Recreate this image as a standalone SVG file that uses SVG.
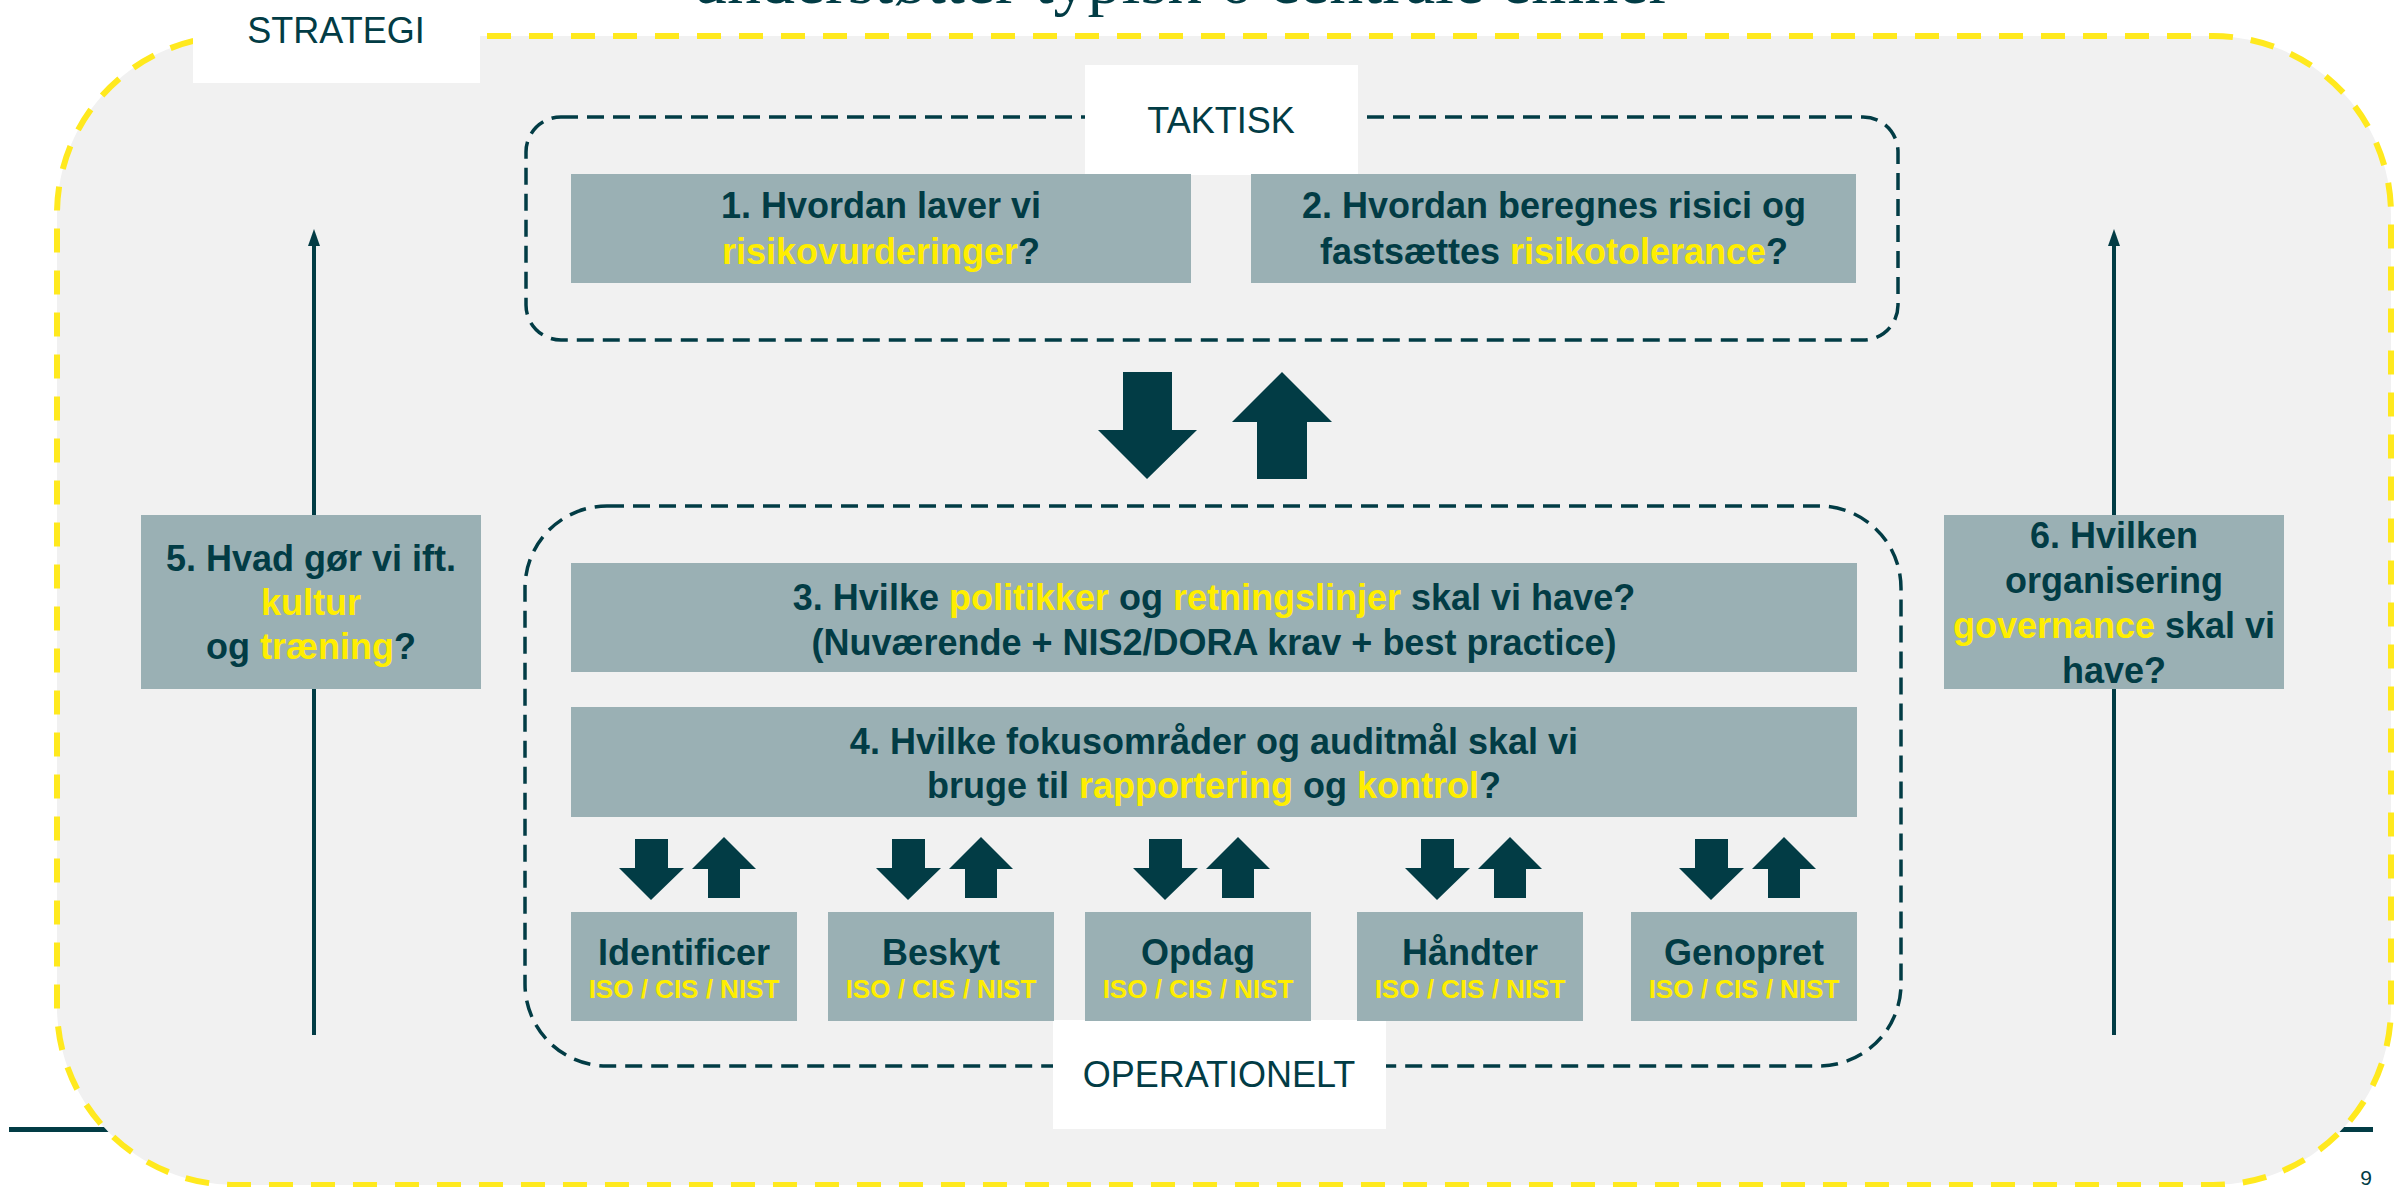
<svg xmlns="http://www.w3.org/2000/svg" width="2394" height="1187" viewBox="0 0 2394 1187">
<defs>
<style>
.t{font-family:"Liberation Sans",Arial,sans-serif;font-weight:bold;font-size:36px;fill:#023C45;text-anchor:middle}
.s{font-size:26px}
.y{fill:#FFEE00}
.box{fill:#9AB0B4}
.lbl{font-family:"Liberation Sans",Arial,sans-serif;font-size:36px;fill:#023C45;text-anchor:middle}
.wb{fill:#FFFFFF}
.arr{fill:#023C45}
.dash{fill:none;stroke:#023C45;stroke-width:3.5;stroke-dasharray:17 9}
.vline{stroke:#023C45;stroke-width:4}
</style>
</defs>
<rect x="0" y="0" width="2394" height="1187" fill="#FFFFFF"/>
<rect x="9" y="1127" width="2364" height="5" fill="#023C45"/>
<text x="1182" y="3" font-family="Liberation Serif,Times New Roman,serif" font-size="68" fill="#023C45" text-anchor="middle">understøtter typisk 6 centrale emner</text>
<rect id="outer" x="57" y="36" width="2334" height="1149" rx="178" ry="178" fill="#F1F1F1" stroke="#FFE91E" stroke-width="6" stroke-dasharray="24 18"/>
<text x="2366" y="1185" font-family="Liberation Sans,Arial,sans-serif" font-size="21" fill="#023C45" text-anchor="middle">9</text>

<g id="connectors">
<line class="vline" x1="314" y1="244" x2="314" y2="1035"/>
<polygon class="arr" points="314,229 308,246 320,246"/>
<line class="vline" x1="2114" y1="244" x2="2114" y2="1035"/>
<polygon class="arr" points="2114,229 2108,246 2120,246"/>
<polygon class="arr" points="1123,372 1172,372 1172,430 1197,430 1147,479 1098,430 1123,430"/>
<polygon class="arr" points="1282,372 1332,422 1307,422 1307,479 1257,479 1257,422 1232,422"/>
<g id="small-arrows">
<polygon class="arr" transform="translate(684,0)" points="-49,839 -16,839 -16,868 0,868 -33,900 -65,868 -49,868"/>
<polygon class="arr" transform="translate(684,0)" points="40,837 72,869 56,869 56,898 24,898 24,869 8,869"/>
<polygon class="arr" transform="translate(941,0)" points="-49,839 -16,839 -16,868 0,868 -33,900 -65,868 -49,868"/>
<polygon class="arr" transform="translate(941,0)" points="40,837 72,869 56,869 56,898 24,898 24,869 8,869"/>
<polygon class="arr" transform="translate(1198,0)" points="-49,839 -16,839 -16,868 0,868 -33,900 -65,868 -49,868"/>
<polygon class="arr" transform="translate(1198,0)" points="40,837 72,869 56,869 56,898 24,898 24,869 8,869"/>
<polygon class="arr" transform="translate(1470,0)" points="-49,839 -16,839 -16,868 0,868 -33,900 -65,868 -49,868"/>
<polygon class="arr" transform="translate(1470,0)" points="40,837 72,869 56,869 56,898 24,898 24,869 8,869"/>
<polygon class="arr" transform="translate(1744,0)" points="-49,839 -16,839 -16,868 0,868 -33,900 -65,868 -49,868"/>
<polygon class="arr" transform="translate(1744,0)" points="40,837 72,869 56,869 56,898 24,898 24,869 8,869"/>
</g>
</g>

<g id="group-taktisk">
<rect class="dash" x="526" y="117" width="1372" height="223" rx="35" ry="35"/>
</g>
<g id="group-operationelt">
<rect class="dash" x="525" y="506" width="1376" height="560" rx="82" ry="82"/>
</g>

<g id="label-strategi">
<rect class="wb" x="193" y="0" width="287" height="83"/>
<text class="lbl" x="336" y="43">STRATEGI</text>
</g>
<g id="label-taktisk">
<rect class="wb" x="1085" y="65" width="273" height="110"/>
<text class="lbl" x="1221" y="133">TAKTISK</text>
</g>
<g id="label-operationelt">
<rect class="wb" x="1053" y="1020" width="333" height="109"/>
<text class="lbl" x="1219" y="1087">OPERATIONELT</text>
</g>

<g id="node-1">
<rect class="box" x="571" y="174" width="620" height="109"/>
<text class="t" x="881" y="218">1. Hvordan laver vi</text>
<text class="t" x="881" y="264"><tspan class="y">risikovurderinger</tspan>?</text>
</g>
<g id="node-2">
<rect class="box" x="1251" y="174" width="605" height="109"/>
<text class="t" x="1554" y="218">2. Hvordan beregnes risici og</text>
<text class="t" x="1554" y="264">fastsættes <tspan class="y">risikotolerance</tspan>?</text>
</g>
<g id="node-3">
<rect class="box" x="571" y="563" width="1286" height="109"/>
<text class="t" x="1214" y="610">3. Hvilke <tspan class="y">politikker</tspan> og <tspan class="y">retningslinjer</tspan> skal vi have?</text>
<text class="t" x="1214" y="655">(Nuværende + NIS2/DORA krav + best practice)</text>
</g>
<g id="node-4">
<rect class="box" x="571" y="707" width="1286" height="110"/>
<text class="t" x="1214" y="754">4. Hvilke fokusområder og auditmål skal vi</text>
<text class="t" x="1214" y="798">bruge til <tspan class="y">rapportering</tspan> og <tspan class="y">kontrol</tspan>?</text>
</g>
<g id="node-5">
<rect class="box" x="141" y="515" width="340" height="174"/>
<text class="t" x="311" y="571">5. Hvad gør vi ift.</text>
<text class="t" x="311" y="615"><tspan class="y">kultur</tspan></text>
<text class="t" x="311" y="659">og <tspan class="y">træning</tspan>?</text>
</g>
<g id="node-6">
<rect class="box" x="1944" y="515" width="340" height="174"/>
<text class="t" x="2114" y="548">6. Hvilken</text>
<text class="t" x="2114" y="593">organisering</text>
<text class="t" x="2114" y="638"><tspan class="y">governance</tspan> skal vi</text>
<text class="t" x="2114" y="683">have?</text>
</g>

<g id="node-identificer">
<rect class="box" x="571" y="912" width="226" height="109"/>
<text class="t" x="684" y="965">Identificer</text>
<text class="t s y" x="684" y="998">ISO / CIS / NIST</text>
</g>
<g id="node-beskyt">
<rect class="box" x="828" y="912" width="226" height="109"/>
<text class="t" x="941" y="965">Beskyt</text>
<text class="t s y" x="941" y="998">ISO / CIS / NIST</text>
</g>
<g id="node-opdag">
<rect class="box" x="1085" y="912" width="226" height="109"/>
<text class="t" x="1198" y="965">Opdag</text>
<text class="t s y" x="1198" y="998">ISO / CIS / NIST</text>
</g>
<g id="node-handter">
<rect class="box" x="1357" y="912" width="226" height="109"/>
<text class="t" x="1470" y="965">Håndter</text>
<text class="t s y" x="1470" y="998">ISO / CIS / NIST</text>
</g>
<g id="node-genopret">
<rect class="box" x="1631" y="912" width="226" height="109"/>
<text class="t" x="1744" y="965">Genopret</text>
<text class="t s y" x="1744" y="998">ISO / CIS / NIST</text>
</g>
</svg>
